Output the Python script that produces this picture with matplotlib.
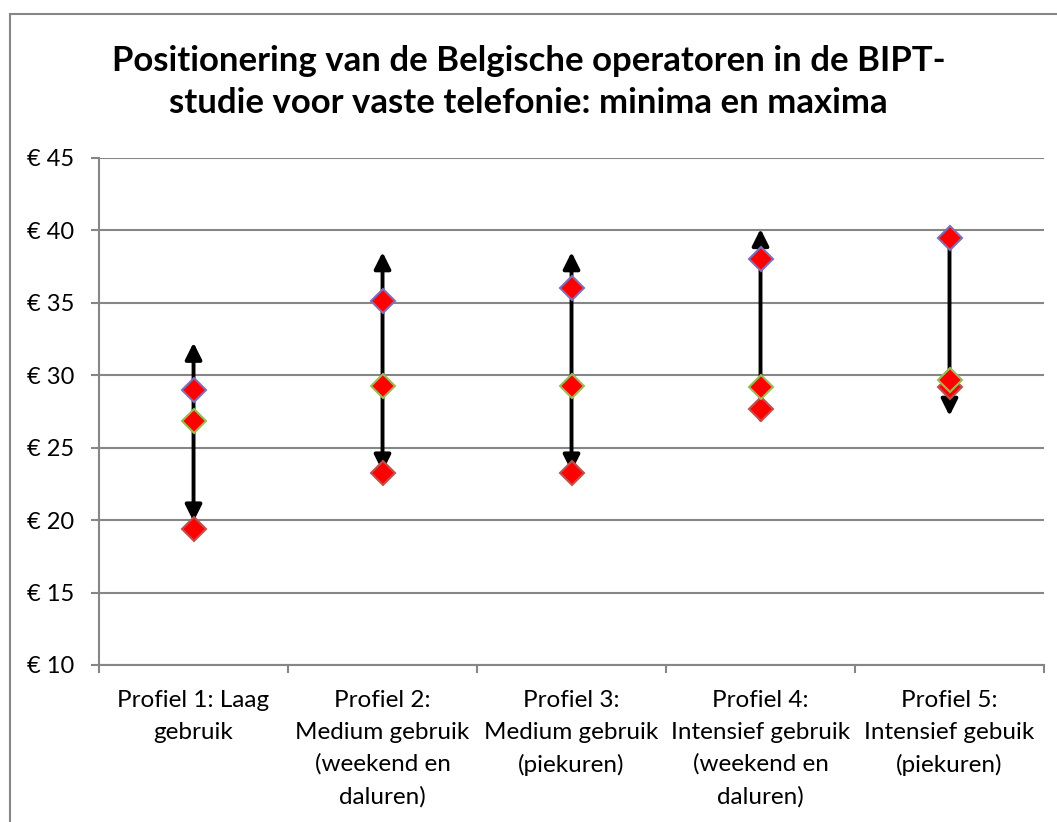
import matplotlib
matplotlib.use('Agg')
import matplotlib.pyplot as plt
from matplotlib.patches import Rectangle

plt.rcParams['font.family'] = ['Lato', 'DejaVu Sans']

categories = ['Profiel 1: Laag\ngebruik',
              'Profiel 2:\nMedium gebruik\n(weekend en\ndaluren)',
              'Profiel 3:\nMedium gebruik\n(piekuren)',
              'Profiel 4:\nIntensief gebruik\n(weekend en\ndaluren)',
              'Profiel 5:\nIntensief gebuik\n(piekuren)']
maxima = [28.97, 35.15, 36.0, 38.02, 39.47]
middle = [26.85, 29.24, 29.24, 29.19, 29.65]
minima = [19.38, 23.22, 23.25, 27.65, 29.2]
# arrows drawn on the chart: lower end, upper end, heads
arrow_low = [19.9, 23.35, 23.35, 26.95, 27.2]
arrow_high = [32.25, 38.5, 38.5, 40.1, 39.47]
arrow_style = ['<|-|>', '<|-|>', '<|-|>', '-|>', '<|-']
yticks = [10, 15, 20, 25, 30, 35, 40, 45]

fig = plt.figure(figsize=(10.57, 8.22), dpi=100)
ax = fig.add_axes([0.0937, 0.191, 0.8940, 0.6168])

# chart area border (left and top visible)
fig.patches.append(Rectangle((10 / 1057, -0.1), 1.2, 1 - 14 / 822 + 0.1,
                             transform=fig.transFigure, fill=False,
                             edgecolor='#868686', lw=1.5))

x = range(len(categories))
for i in x:
    ax.annotate('', xy=(i, arrow_high[i]), xytext=(i, arrow_low[i]),
                arrowprops=dict(arrowstyle=arrow_style[i] + ',head_length=1.0,head_width=0.5',
                                mutation_scale=10, lw=2.8, color='black',
                                shrinkA=0, shrinkB=0), zorder=3)

ax.plot(x, minima, 'D', ms=12, mfc='#FF0000', mec='#C0504D', mew=1.5, zorder=4)
ax.plot(x, middle, 'D', ms=12, mfc='#FF0000', mec='#9BBB59', mew=1.5, zorder=5)
ax.plot(x, maxima, 'D', ms=12, mfc='#FF0000', mec='#7F6FB5', mew=1.5, zorder=6)

ax.set_xlim(-0.5, len(categories) - 0.5)
ax.set_ylim(10, 45)
ax.set_yticks(yticks)
ax.set_yticklabels(['€ %d' % v for v in yticks], fontsize=17)
ax.set_xticks([i - 0.5 for i in range(len(categories) + 1)])
ax.set_xticklabels([])
ax.set_xticks(list(x), minor=True)
ax.set_xticklabels(categories, minor=True, fontsize=17.5, linespacing=1.62, va='top')
ax.tick_params(axis='x', which='minor', length=0, pad=18)
ax.tick_params(axis='x', which='major', length=6, color='#868686', width=1.5, direction='out')
ax.tick_params(axis='y', length=6, color='#868686', width=1.5, pad=12)
ax.grid(axis='y', color='#868686', lw=1.5)
ax.set_axisbelow(True)
for s in ['top', 'right']:
    ax.spines[s].set_visible(False)
for s in ['left', 'bottom']:
    ax.spines[s].set_color('#868686')
    ax.spines[s].set_linewidth(1.5)

fig.text(0.5, 1 - 82 / 822, 'Positionering van de Belgische operatoren in de BIPT-\n'
         'studie voor vaste telefonie: minima en maxima',
         ha='center', va='center', fontsize=25, fontweight='bold', linespacing=1.42)

fig.savefig('out.png', dpi=100)
